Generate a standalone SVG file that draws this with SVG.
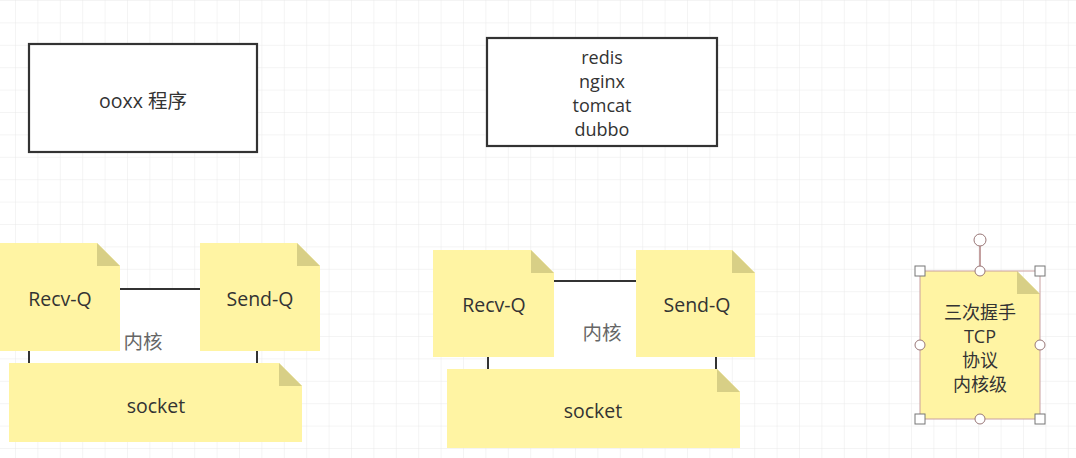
<svg xmlns="http://www.w3.org/2000/svg" width="1076" height="458" viewBox="0 0 1076 458">
  <defs>
    <pattern id="grid" x="15" y="0" width="22.4" height="22.4" patternUnits="userSpaceOnUse">
      <path d="M0,0 V22.4 M0,0 H22.4" fill="none" stroke="#e9e9e9" stroke-width="1"/>
    </pattern>
    <style>
      .box { fill: #ffffff; stroke: #333333; stroke-width: 2.2; }
      .kern { fill: #ffffff; stroke: #333333; stroke-width: 2; }
      .note { fill: #fff4a3; stroke: none; }
      .fold { fill: #d8cf86; }
      .t { font-family: "Open Sans", "Noto Sans CJK SC", sans-serif; font-size: 19.5px; fill: #333333; text-anchor: middle; dominant-baseline: central; }
      .m { font-size: 18px; }
      .tk { font-family: "Open Sans", "Noto Sans CJK SC", sans-serif; font-size: 19.5px; fill: #666666; text-anchor: middle; dominant-baseline: central; }
      .sel { fill: none; stroke: #c9a0a0; stroke-width: 1; }
      .hs { fill: #ffffff; stroke: #777777; stroke-width: 1; }
      .hc { fill: #ffffff; stroke: #997777; stroke-width: 1; }
    </style>
  </defs>
  <rect x="0" y="0" width="1076" height="458" fill="#ffffff"/>
  <rect x="0" y="0" width="1076" height="458" fill="url(#grid)"/>

  <g id="program">
    <rect class="box" x="29" y="44" width="228" height="108"/>
    <text class="t" x="143" y="100">ooxx 程序</text>
  </g>

  <g id="apps">
    <rect class="box" x="487" y="38" width="230" height="108"/>
    <text class="t m" x="602" y="57">redis</text>
    <text class="t m" x="602" y="81">nginx</text>
    <text class="t m" x="602" y="105">tomcat</text>
    <text class="t m" x="602" y="129">dubbo</text>
  </g>

  <g id="connectors"></g>

  <!-- left group -->
  <g id="kernel-left">
    <rect class="kern" x="29" y="289" width="228" height="90"/>
    <text class="tk" x="143" y="341">内核</text>
  </g>
  <g id="recvq-left">
    <path class="note" d="M0,243 H97 L120,266 V351 H0 Z"/>
    <path class="fold" d="M97,243 V266 H120 Z"/>
    <text class="t" x="60" y="298">Recv-Q</text>
  </g>
  <g id="sendq-left">
    <path class="note" d="M200,243 H297 L320,266 V351 H200 Z"/>
    <path class="fold" d="M297,243 V266 H320 Z"/>
    <text class="t" x="260" y="298">Send-Q</text>
  </g>
  <g id="socket-left">
    <path class="note" d="M9,363 H279 L302,386 V442 H9 Z"/>
    <path class="fold" d="M279,363 V386 H302 Z"/>
    <text class="t" x="156" y="405">socket</text>
  </g>

  <!-- middle group -->
  <g id="kernel-mid">
    <rect class="kern" x="488" y="281" width="228" height="100"/>
    <text class="tk" x="602" y="332">内核</text>
  </g>
  <g id="recvq-mid">
    <path class="note" d="M433,250 H531 L554,273 V357 H433 Z"/>
    <path class="fold" d="M531,250 V273 H554 Z"/>
    <text class="t" x="494" y="304">Recv-Q</text>
  </g>
  <g id="sendq-mid">
    <path class="note" d="M636,250 H732 L755,273 V357 H636 Z"/>
    <path class="fold" d="M732,250 V273 H755 Z"/>
    <text class="t" x="697" y="304">Send-Q</text>
  </g>
  <g id="socket-mid">
    <path class="note" d="M447,369 H717 L740,392 V448 H447 Z"/>
    <path class="fold" d="M717,369 V392 H740 Z"/>
    <text class="t" x="593" y="410">socket</text>
  </g>

  <!-- right note (selected) -->
  <g id="tcp-note">
    <path class="note" d="M920,271 H1017 L1040,294 V419 H920 Z"/>
    <path class="fold" d="M1017,271 V294 H1040 Z"/>
    <text class="t m" x="980" y="312">三次握手</text>
    <text class="t m" x="980" y="336">TCP</text>
    <text class="t m" x="980" y="360">协议</text>
    <text class="t m" x="980" y="384">内核级</text>
    <rect class="sel" x="920" y="271" width="120" height="148"/>
    <line x1="980" y1="246" x2="980" y2="271" stroke="#b08080" stroke-width="1.5"/>
    <circle class="hc" cx="980" cy="240" r="6"/>
    <rect class="hs" x="915" y="266" width="10" height="10"/>
    <rect class="hs" x="1035" y="266" width="10" height="10"/>
    <rect class="hs" x="915" y="414" width="10" height="10"/>
    <rect class="hs" x="1035" y="414" width="10" height="10"/>
    <circle class="hc" cx="980" cy="271" r="5"/>
    <circle class="hc" cx="920" cy="345" r="5"/>
    <circle class="hc" cx="1040" cy="345" r="5"/>
    <circle class="hc" cx="980" cy="419" r="5"/>
  </g>
</svg>
